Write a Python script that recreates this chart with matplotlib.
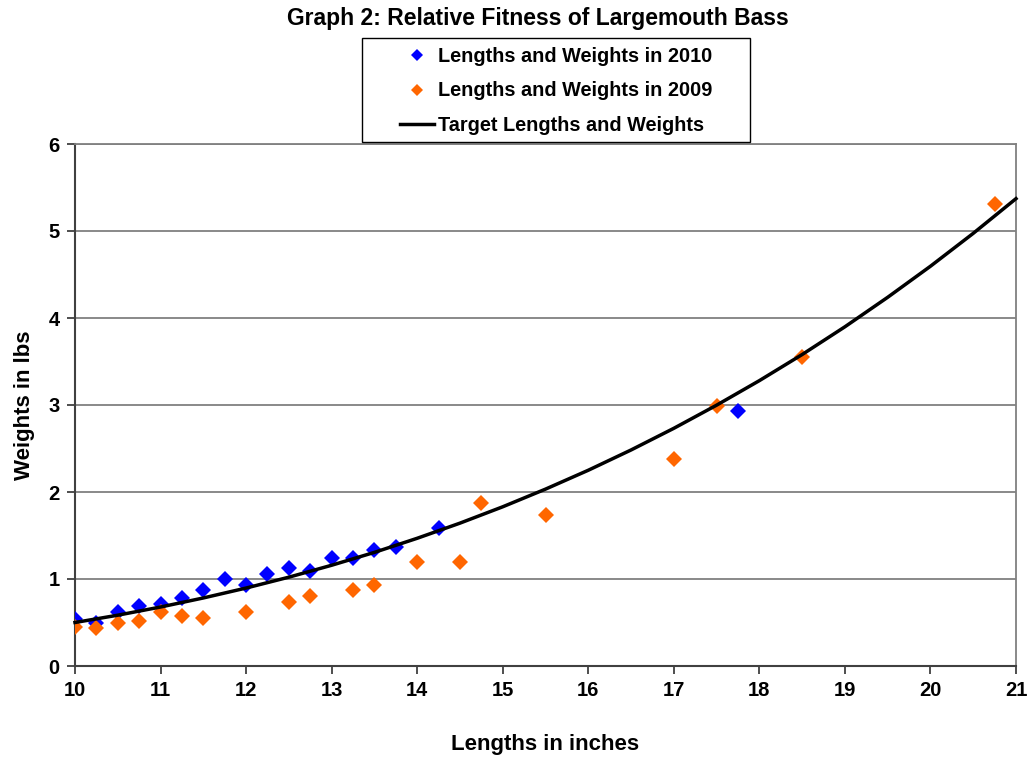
import matplotlib
matplotlib.use("Agg")
import matplotlib.pyplot as plt
from matplotlib.patches import Rectangle

plt.rcParams['font.family'] = ['Liberation Sans', 'DejaVu Sans']
plt.rcParams['font.weight'] = 'bold'

len_2010 = [10.0, 10.25, 10.5, 10.75, 11.0, 11.25, 11.5, 11.75, 12.0, 12.25, 12.5, 12.75,
            13.0, 13.25, 13.5, 13.75, 14.25, 17.75]
wt_2010 = [0.54, 0.50, 0.62, 0.69, 0.71, 0.78, 0.87, 1.00, 0.93, 1.06, 1.13, 1.09,
           1.245, 1.24, 1.33, 1.37, 1.59, 2.93]

len_2009 = [10.0, 10.25, 10.5, 10.75, 11.0, 11.25, 11.5, 12.0, 12.5, 12.75, 13.25, 13.5,
            14.0, 14.5, 14.75, 15.5, 17.0, 17.5, 18.5, 20.75]
wt_2009 = [0.45, 0.44, 0.49, 0.52, 0.62, 0.58, 0.555, 0.62, 0.74, 0.80, 0.87, 0.93,
           1.19, 1.19, 1.87, 1.74, 2.375, 2.99, 3.555, 5.31]

len_target = [10, 10.5, 11, 11.5, 12, 12.5, 13, 13.5, 14, 14.5, 15, 15.5, 16, 16.5,
              17, 17.5, 18, 18.5, 19, 19.5, 20, 20.5, 21]
wt_target = [0.500, 0.584, 0.678, 0.782, 0.896, 1.021, 1.158, 1.306, 1.468, 1.642,
             1.830, 2.033, 2.250, 2.483, 2.732, 2.998, 3.280, 3.580, 3.899, 4.238,
             4.595, 4.973, 5.372]

x_ticks = list(range(10, 22))
y_ticks = list(range(0, 7))

W, H = 1031, 757
fig = plt.figure(figsize=(W/100, H/100), dpi=100)
ax = fig.add_axes([75/W, 1-666/H, (1016-75)/W, (666-144)/H])

ax.set_xlim(10, 21)
ax.set_ylim(0, 6)
ax.set_xticks(x_ticks)
ax.set_yticks(y_ticks)
ax.yaxis.grid(True, color='#808080', linewidth=1.3)
ax.set_axisbelow(True)

l1, = ax.plot(len_2010, wt_2010, linestyle='none', marker='D', markersize=8,
              color='#0000FF', markeredgewidth=0, label='Lengths and Weights in 2010', zorder=3)
l2, = ax.plot(len_2009, wt_2009, linestyle='none', marker='D', markersize=8,
              color='#FF6600', markeredgewidth=0, label='Lengths and Weights in 2009', zorder=3)
l3, = ax.plot(len_target, wt_target, color='black', linewidth=2.5,
              label='Target Lengths and Weights', zorder=4, clip_on=False)

for s in ['top', 'right']:
    ax.spines[s].set_color('#808080')
    ax.spines[s].set_linewidth(1.3)
for s in ['left', 'bottom']:
    ax.spines[s].set_color('#404040')
    ax.spines[s].set_linewidth(1.5)

ax.tick_params(axis='both', direction='out', length=6, width=1.3, color='#404040',
               labelsize=14.5, pad=5)
for lab in ax.get_xticklabels() + ax.get_yticklabels():
    lab.set_fontweight('bold')

ax.set_xlabel('Lengths in inches', fontsize=16, fontweight='bold', labelpad=24)
ax.set_ylabel('Weights in lbs', fontsize=16, fontweight='bold', labelpad=10)

fig.text(538/W, 1-18/H, 'Graph 2: Relative Fitness of Largemouth Bass',
         ha='center', va='center', fontsize=16.5, fontweight='bold')

# legend box outline (Excel-style, wide padding)
fig.patches.append(Rectangle((362/W, 1-142/H), (750-362)/W, (142-38)/H,
                             transform=fig.transFigure, fill=False,
                             edgecolor='black', linewidth=1.0))
leg = fig.legend(handles=[l1, l2, l3], loc='center',
                 bbox_to_anchor=(556/W, 1-91/H), fontsize=14.3, frameon=False,
                 handlelength=1.7, handletextpad=0.2, markerscale=0.75,
                 borderpad=0.3, labelspacing=0.8)
for t in leg.get_texts():
    t.set_fontweight('bold')

fig.savefig('out.png', dpi=100)
